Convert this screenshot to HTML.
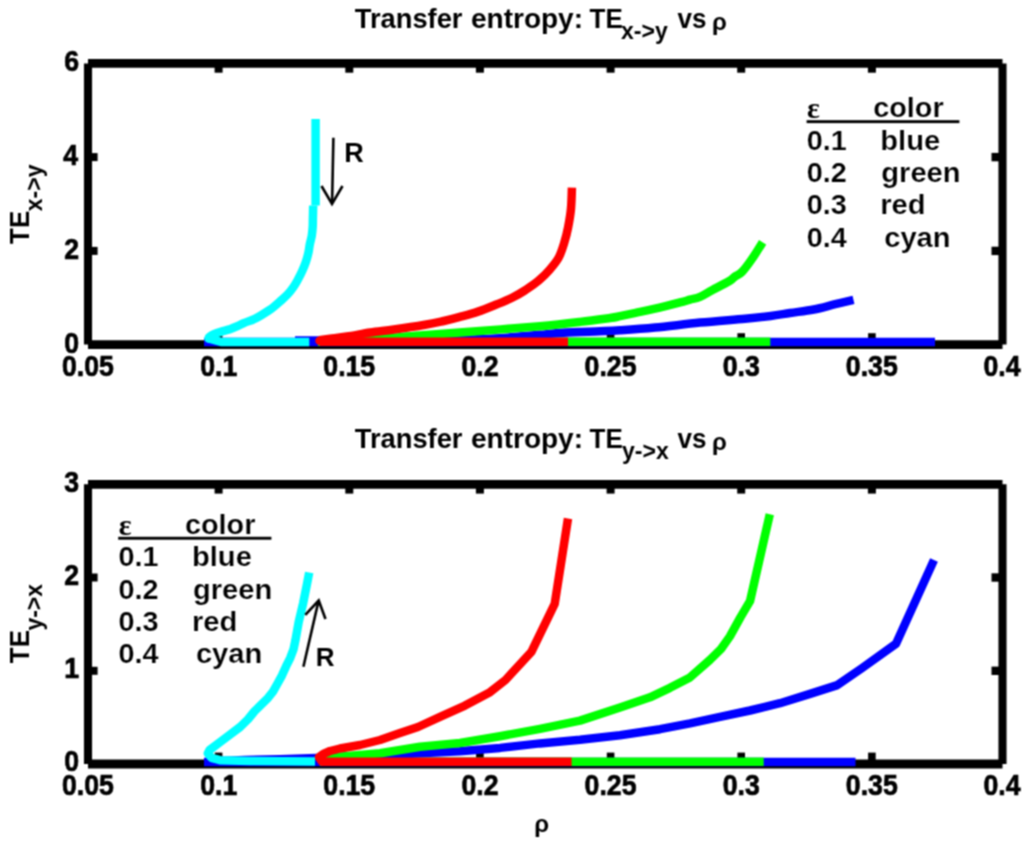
<!DOCTYPE html><html><head><meta charset="utf-8"><style>html,body{margin:0;padding:0;background:#fff;width:1024px;height:843px;overflow:hidden}svg{display:block}</style></head><body>
<svg width="1024" height="843" viewBox="0 0 1024 843" font-family="Liberation Sans, sans-serif" font-weight="bold" fill="#000">
<defs><filter id="bl" x="0" y="0" width="1024" height="843" filterUnits="userSpaceOnUse" color-interpolation-filters="sRGB"><feConvolveMatrix order="3" kernelMatrix="1 2 1 2 4 2 1 2 1" divisor="16" edgeMode="duplicate" preserveAlpha="false"/></filter></defs>
<g filter="url(#bl)">
<rect width="1024" height="843" fill="#fff"/>
<path d="M88,63.4H1002.5M1002.5,344.6H88" fill="none" stroke="#000" stroke-width="8.8" stroke-linecap="butt"/>
<path d="M1002.5,63.4V344.6M88,344.6V63.4" fill="none" stroke="#000" stroke-width="8.1" stroke-linecap="butt"/>
<rect x="214.6" y="63.4" width="8" height="9.3" fill="#000"/>
<rect x="214.8" y="333.2" width="7.6" height="11.4" fill="#000"/>
<rect x="345.3" y="63.4" width="8" height="9.3" fill="#000"/>
<rect x="345.5" y="333.2" width="7.6" height="11.4" fill="#000"/>
<rect x="475.9" y="63.4" width="8" height="9.3" fill="#000"/>
<rect x="476.1" y="333.2" width="7.6" height="11.4" fill="#000"/>
<rect x="606.6" y="63.4" width="8" height="9.3" fill="#000"/>
<rect x="606.8" y="333.2" width="7.6" height="11.4" fill="#000"/>
<rect x="737.2" y="63.4" width="8" height="9.3" fill="#000"/>
<rect x="737.4" y="333.2" width="7.6" height="11.4" fill="#000"/>
<rect x="867.9" y="63.4" width="8" height="9.3" fill="#000"/>
<rect x="868.1" y="333.2" width="7.6" height="11.4" fill="#000"/>
<rect x="88.0" y="246.9" width="9.6" height="8" fill="#000"/>
<rect x="991.5" y="246.7" width="11.1" height="8.4" fill="#000"/>
<rect x="88.0" y="153.1" width="9.6" height="8" fill="#000"/>
<rect x="991.5" y="152.9" width="11.1" height="8.4" fill="#000"/>
<polyline points="204.0,342.1 935.0,342.1" fill="none" stroke="#0000ff" stroke-width="8.5" stroke-linejoin="round" stroke-linecap="butt"/>
<polyline points="318.0,341.8 770.3,341.8" fill="none" stroke="#00ff00" stroke-width="8.5" stroke-linejoin="round" stroke-linecap="butt"/>
<path d="M853.5,299.9C850.5,300.6 841.8,302.6 835.2,304.2C828.6,305.8 821.2,308.0 813.7,309.5C806.2,311.0 797.2,311.9 790.0,313.0C782.8,314.1 778.2,315.1 770.7,316.0C763.2,316.9 756.8,317.6 745.0,318.7C733.2,319.8 715.0,321.1 700.0,322.6C685.0,324.1 668.3,326.3 655.0,327.6C641.7,328.9 629.2,329.7 620.0,330.3C610.8,330.9 609.4,330.9 600.0,331.3C590.6,331.7 573.4,332.2 563.4,332.8C553.4,333.4 547.2,334.2 540.0,334.8C532.8,335.4 526.7,335.9 520.0,336.5C513.3,337.1 506.7,337.8 500.0,338.2C493.3,338.6 490.0,338.9 480.0,339.2C470.0,339.5 456.7,339.8 440.0,340.0C423.3,340.2 400.8,340.2 380.0,340.3C359.2,340.4 329.2,340.4 315.0,340.4C300.8,340.4 298.3,340.4 295.0,340.4" fill="none" stroke="#0000ff" stroke-width="8.5" stroke-linejoin="round" stroke-linecap="butt"/>
<path d="M762.6,242.3C760.8,245.2 755.0,254.7 751.5,259.6C748.0,264.6 744.6,269.2 741.9,272.0C739.1,274.8 737.1,275.0 735.0,276.5C732.9,278.0 733.1,278.8 729.4,281.0C725.6,283.2 717.4,287.4 712.5,290.0C707.6,292.6 703.8,295.3 700.0,296.9C696.2,298.5 692.9,298.8 690.0,299.6C687.1,300.4 688.3,300.3 682.5,301.8C676.7,303.3 662.8,306.9 655.0,308.7C647.2,310.5 641.4,311.6 635.6,312.8C629.8,314.1 624.3,315.3 620.0,316.2C615.7,317.1 616.7,317.1 610.0,318.0C603.3,318.9 591.7,320.5 580.0,321.9C568.3,323.3 556.7,324.7 540.0,326.2C523.3,327.7 500.0,329.4 480.0,331.0C460.0,332.6 438.3,334.2 420.0,335.6C401.7,337.0 385.0,338.6 370.0,339.5C355.0,340.4 338.7,340.9 330.0,341.3C321.3,341.7 320.0,341.7 318.0,341.8" fill="none" stroke="#00ff00" stroke-width="8.5" stroke-linejoin="round" stroke-linecap="butt"/>
<path d="M571.9,187.6C571.8,191.1 571.6,201.9 571.0,208.5C570.4,215.1 569.2,221.7 568.1,227.4C567.0,233.1 565.9,237.5 564.3,242.6C562.7,247.7 561.0,253.4 558.6,257.8C556.2,262.2 553.4,265.4 550.1,269.2C546.8,273.0 542.8,277.1 538.7,280.6C534.6,284.1 529.8,287.2 525.4,290.1C521.0,293.0 516.9,295.3 512.1,297.7C507.4,300.1 502.6,302.0 496.9,304.3C491.2,306.6 484.3,309.5 478.0,311.6C471.7,313.8 464.7,315.6 459.0,317.2C453.3,318.8 449.5,319.8 443.8,321.0C438.1,322.2 433.3,323.3 425.0,324.7C416.7,326.1 402.9,328.2 393.8,329.5C384.7,330.8 378.1,331.3 370.3,332.5C362.5,333.7 353.6,335.5 346.9,336.5C340.2,337.5 334.6,338.1 330.0,338.7C325.4,339.3 321.2,340.0 319.5,340.3" fill="none" stroke="#ff0000" stroke-width="8.5" stroke-linejoin="round" stroke-linecap="butt"/>
<polyline points="319.5,341.8 568.0,341.8" fill="none" stroke="#ff0000" stroke-width="8.5" stroke-linejoin="round" stroke-linecap="butt"/>
<circle cx="319.5" cy="340.8" r="4.25" fill="#ff0000"/>
<polyline points="315.6,119.0 315.6,205.5" fill="none" stroke="#00ffff" stroke-width="8.5" stroke-linejoin="round" stroke-linecap="butt"/>
<path d="M313.2,205.5C313.2,206.1 313.2,206.8 313.1,208.9C313.1,211.0 313.0,214.8 312.9,217.8C312.8,220.8 312.9,223.7 312.7,226.7C312.5,229.7 312.3,232.6 311.8,235.6C311.3,238.6 310.4,241.4 309.8,244.4C309.2,247.4 309.0,250.3 308.3,253.3C307.6,256.3 306.8,259.2 305.8,262.2C304.8,265.2 303.5,268.2 302.2,271.1C300.9,274.0 299.3,277.1 297.8,279.8C296.3,282.5 295.1,284.7 293.4,287.1C291.7,289.5 289.9,292.0 287.6,294.4C285.3,296.8 282.1,299.6 279.8,301.7C277.5,303.8 275.6,305.4 273.6,307.0C271.6,308.6 270.6,309.2 267.7,311.1C264.8,313.0 259.9,316.2 256.0,318.2C252.1,320.2 247.3,321.6 244.3,322.9C241.3,324.2 240.5,324.8 238.0,325.9C235.5,327.0 232.1,328.4 229.3,329.4C226.5,330.3 224.0,330.8 221.4,331.6C218.8,332.4 216.0,333.3 214.0,334.2C212.0,335.1 210.4,336.1 209.5,336.8C208.6,337.5 208.7,338.2 208.5,338.5" fill="none" stroke="#00ffff" stroke-width="8.5" stroke-linejoin="round" stroke-linecap="butt"/>
<polyline points="208.5,338.5 222.0,342.1 309.3,342.1" fill="none" stroke="#00ffff" stroke-width="8.5" stroke-linejoin="round" stroke-linecap="butt"/>
<circle cx="208.5" cy="338.5" r="4.25" fill="#00ffff"/>
<path d="M88,484.3H1002.5M1002.5,764.0H88" fill="none" stroke="#000" stroke-width="8.8" stroke-linecap="butt"/>
<path d="M1002.5,484.3V764.0M88,764.0V484.3" fill="none" stroke="#000" stroke-width="8.1" stroke-linecap="butt"/>
<rect x="214.6" y="484.3" width="8" height="9.3" fill="#000"/>
<rect x="214.8" y="752.6" width="7.6" height="11.4" fill="#000"/>
<rect x="345.3" y="484.3" width="8" height="9.3" fill="#000"/>
<rect x="345.5" y="752.6" width="7.6" height="11.4" fill="#000"/>
<rect x="475.9" y="484.3" width="8" height="9.3" fill="#000"/>
<rect x="476.1" y="752.6" width="7.6" height="11.4" fill="#000"/>
<rect x="606.6" y="484.3" width="8" height="9.3" fill="#000"/>
<rect x="606.8" y="752.6" width="7.6" height="11.4" fill="#000"/>
<rect x="737.2" y="484.3" width="8" height="9.3" fill="#000"/>
<rect x="737.4" y="752.6" width="7.6" height="11.4" fill="#000"/>
<rect x="867.9" y="484.3" width="8" height="9.3" fill="#000"/>
<rect x="868.1" y="752.6" width="7.6" height="11.4" fill="#000"/>
<rect x="88.0" y="666.8" width="9.6" height="8" fill="#000"/>
<rect x="991.5" y="666.6" width="11.1" height="8.4" fill="#000"/>
<rect x="88.0" y="573.5" width="9.6" height="8" fill="#000"/>
<rect x="991.5" y="573.3" width="11.1" height="8.4" fill="#000"/>
<polyline points="204.0,762.1 855.5,762.1" fill="none" stroke="#0000ff" stroke-width="8.5" stroke-linejoin="round" stroke-linecap="butt"/>
<polyline points="320.0,761.8 763.7,761.8" fill="none" stroke="#00ff00" stroke-width="8.5" stroke-linejoin="round" stroke-linecap="butt"/>
<polyline points="934.0,560.1 896.0,643.7 862.0,668.1 837.4,685.1 810.0,693.9 780.0,703.2 750.0,710.5 720.0,716.9 690.0,723.4 660.0,729.2 620.0,735.2 580.0,739.8 540.0,743.4 500.0,747.9 460.0,751.3 420.0,753.3 380.0,755.5 340.0,757.0 317.0,758.0 280.0,759.2 245.0,760.0 206.0,761.5" fill="none" stroke="#0000ff" stroke-width="8.5" stroke-linejoin="round" stroke-linecap="butt"/>
<polyline points="769.8,514.3 750.0,601.2 740.4,617.4 729.9,636.4 721.0,649.0 709.8,660.0 690.0,677.4 670.0,687.8 650.0,697.3 620.0,707.6 580.0,720.6 540.0,728.8 500.0,736.3 460.0,743.0 420.0,746.8 380.0,753.3 340.0,756.8 322.0,760.5" fill="none" stroke="#00ff00" stroke-width="8.5" stroke-linejoin="round" stroke-linecap="butt"/>
<polyline points="568.0,518.5 554.7,603.8 531.4,651.8 505.5,680.0 490.0,692.2 465.0,705.6 440.0,716.8 418.0,727.0 400.0,733.0 380.0,740.0 360.0,745.0 340.0,748.5 330.0,751.0 323.4,753.8 319.0,757.2 322.0,761.8 571.6,761.8" fill="none" stroke="#ff0000" stroke-width="8.5" stroke-linejoin="round" stroke-linecap="butt"/>
<polyline points="309.2,572.5 307.0,584.0 303.2,602.9 298.7,621.9 295.4,640.4 293.6,648.9 290.3,657.8 285.9,666.7 281.9,675.6 277.0,684.5 273.0,691.6 268.0,697.9 259.1,706.8 254.5,711.3 248.0,719.3 240.1,727.0 230.0,734.7 219.7,742.4 209.6,750.0 207.8,753.5 211.5,757.8 220.0,760.2 250.0,761.0 315.0,761.5" fill="none" stroke="#00ffff" stroke-width="8.5" stroke-linejoin="round" stroke-linecap="butt"/>
<g style="filter:grayscale(1)">
<text transform="translate(64.30,352.60) scale(0.92,1)" font-size="29" stroke="#000" stroke-width="0.7">0</text>
<text transform="translate(64.30,258.87) scale(0.92,1)" font-size="29" stroke="#000" stroke-width="0.7">2</text>
<text transform="translate(63.30,165.13) scale(0.92,1)" font-size="29" stroke="#000" stroke-width="0.7">4</text>
<text transform="translate(64.30,71.40) scale(0.92,1)" font-size="29" stroke="#000" stroke-width="0.7">6</text>
<text transform="translate(64.30,771.30) scale(0.92,1)" font-size="29" stroke="#000" stroke-width="0.7">0</text>
<text transform="translate(64.30,678.07) scale(0.92,1)" font-size="29" stroke="#000" stroke-width="0.7">1</text>
<text transform="translate(64.30,584.83) scale(0.92,1)" font-size="29" stroke="#000" stroke-width="0.7">2</text>
<text transform="translate(64.30,491.60) scale(0.92,1)" font-size="29" stroke="#000" stroke-width="0.7">3</text>
<text transform="translate(62.00,375.50) scale(0.92,1)" font-size="29" stroke="#000" stroke-width="0.7">0.05</text>
<text transform="translate(200.14,375.50) scale(0.92,1)" font-size="29" stroke="#000" stroke-width="0.7">0.1</text>
<text transform="translate(323.29,375.50) scale(0.92,1)" font-size="29" stroke="#000" stroke-width="0.7">0.15</text>
<text transform="translate(461.43,375.50) scale(0.92,1)" font-size="29" stroke="#000" stroke-width="0.7">0.2</text>
<text transform="translate(584.57,375.50) scale(0.92,1)" font-size="29" stroke="#000" stroke-width="0.7">0.25</text>
<text transform="translate(722.71,375.50) scale(0.92,1)" font-size="29" stroke="#000" stroke-width="0.7">0.3</text>
<text transform="translate(845.86,375.50) scale(0.92,1)" font-size="29" stroke="#000" stroke-width="0.7">0.35</text>
<text transform="translate(983.50,375.50) scale(0.92,1)" font-size="29" stroke="#000" stroke-width="0.7">0.4</text>
<text transform="translate(62.00,795.30) scale(0.92,1)" font-size="29" stroke="#000" stroke-width="0.7">0.05</text>
<text transform="translate(200.14,795.30) scale(0.92,1)" font-size="29" stroke="#000" stroke-width="0.7">0.1</text>
<text transform="translate(323.29,795.30) scale(0.92,1)" font-size="29" stroke="#000" stroke-width="0.7">0.15</text>
<text transform="translate(461.43,795.30) scale(0.92,1)" font-size="29" stroke="#000" stroke-width="0.7">0.2</text>
<text transform="translate(584.57,795.30) scale(0.92,1)" font-size="29" stroke="#000" stroke-width="0.7">0.25</text>
<text transform="translate(722.71,795.30) scale(0.92,1)" font-size="29" stroke="#000" stroke-width="0.7">0.3</text>
<text transform="translate(845.86,795.30) scale(0.92,1)" font-size="29" stroke="#000" stroke-width="0.7">0.35</text>
<text transform="translate(983.50,795.30) scale(0.92,1)" font-size="29" stroke="#000" stroke-width="0.7">0.4</text>
<text transform="translate(354.80,28.00) scale(0.975,1)" font-size="28">Transfer</text>
<text transform="translate(471.00,28.00)" font-size="28">entropy:</text>
<text transform="translate(589.60,28.20) scale(0.93,1)" font-size="28">TE</text>
<text transform="translate(621.00,39.00)" font-size="23">x-&gt;y</text>
<text transform="translate(677.60,28.40) scale(0.93,1)" font-size="28">vs</text>
<text transform="translate(712.00,29.80)" font-size="24">ρ</text>
<text transform="translate(354.80,447.70) scale(0.975,1)" font-size="28">Transfer</text>
<text transform="translate(471.00,447.70)" font-size="28">entropy:</text>
<text transform="translate(589.60,447.90) scale(0.93,1)" font-size="28">TE</text>
<text transform="translate(622.00,458.70)" font-size="23">y-&gt;x</text>
<text transform="translate(677.60,448.10) scale(0.93,1)" font-size="28">vs</text>
<text transform="translate(712.00,449.50)" font-size="24">ρ</text>
<text transform="translate(534.30,832.40)" font-size="24">ρ</text>
<text transform="translate(807.00,118.10)" font-size="30" font-family="Liberation Serif">ε</text>
<text transform="translate(873.20,117.40) scale(1.03,1)" font-size="28" stroke="#fff" stroke-width="0.2">color</text>
<text transform="translate(806.80,149.70) scale(1.03,1)" font-size="28" stroke="#fff" stroke-width="0.2">0.1</text>
<text transform="translate(880.30,149.70) scale(1.04,1)" font-size="28" stroke="#fff" stroke-width="0.2">blue</text>
<text transform="translate(806.80,182.00) scale(1.03,1)" font-size="28" stroke="#fff" stroke-width="0.2">0.2</text>
<text transform="translate(881.30,182.00) scale(1.04,1)" font-size="28" stroke="#fff" stroke-width="0.2">green</text>
<text transform="translate(806.80,214.30) scale(1.03,1)" font-size="28" stroke="#fff" stroke-width="0.2">0.3</text>
<text transform="translate(880.30,214.30) scale(1.04,1)" font-size="28" stroke="#fff" stroke-width="0.2">red</text>
<text transform="translate(806.80,246.60) scale(1.03,1)" font-size="28" stroke="#fff" stroke-width="0.2">0.4</text>
<text transform="translate(884.20,246.60) scale(1.04,1)" font-size="28" stroke="#fff" stroke-width="0.2">cyan</text>
<text transform="translate(118.70,534.60)" font-size="30" font-family="Liberation Serif">ε</text>
<text transform="translate(184.90,533.90) scale(1.03,1)" font-size="28" stroke="#fff" stroke-width="0.2">color</text>
<text transform="translate(118.50,566.20) scale(1.03,1)" font-size="28" stroke="#fff" stroke-width="0.2">0.1</text>
<text transform="translate(192.00,566.20) scale(1.04,1)" font-size="28" stroke="#fff" stroke-width="0.2">blue</text>
<text transform="translate(118.50,598.50) scale(1.03,1)" font-size="28" stroke="#fff" stroke-width="0.2">0.2</text>
<text transform="translate(193.00,598.50) scale(1.04,1)" font-size="28" stroke="#fff" stroke-width="0.2">green</text>
<text transform="translate(118.50,630.80) scale(1.03,1)" font-size="28" stroke="#fff" stroke-width="0.2">0.3</text>
<text transform="translate(192.00,630.80) scale(1.04,1)" font-size="28" stroke="#fff" stroke-width="0.2">red</text>
<text transform="translate(118.50,663.10) scale(1.03,1)" font-size="28" stroke="#fff" stroke-width="0.2">0.4</text>
<text transform="translate(195.90,663.10) scale(1.04,1)" font-size="28" stroke="#fff" stroke-width="0.2">cyan</text>
<text transform="translate(344.30,162.00)" font-size="27">R</text>
<text transform="translate(315.80,666.10)" font-size="26">R</text>
<text transform="translate(29.30,243.90) rotate(-90) scale(0.93,1)" font-size="28">TE</text>
<text transform="translate(42.10,211.25) rotate(-90)" font-size="23">x-&gt;y</text>
<text transform="translate(29.30,663.25) rotate(-90) scale(0.93,1)" font-size="28">TE</text>
<text transform="translate(42.10,630.60) rotate(-90)" font-size="23">y-&gt;x</text>
</g>
<rect x="806.6" y="120.2" width="152.8" height="2.9" fill="#000"/>
<rect x="118.2" y="536.8" width="153.2" height="2.9" fill="#000"/>
<g stroke="#000" stroke-width="2.6" fill="none" stroke-linecap="butt" stroke-linejoin="miter"><line x1="333.4" y1="137.7" x2="332.1" y2="203"/><polyline points="321.5,186 332,204 342.5,186"/><line x1="303.4" y1="666.8" x2="318.4" y2="601.5"/><polyline points="305.3,614.8 318.7,600.5 325.5,619"/></g>
</g>
</svg></body></html>
